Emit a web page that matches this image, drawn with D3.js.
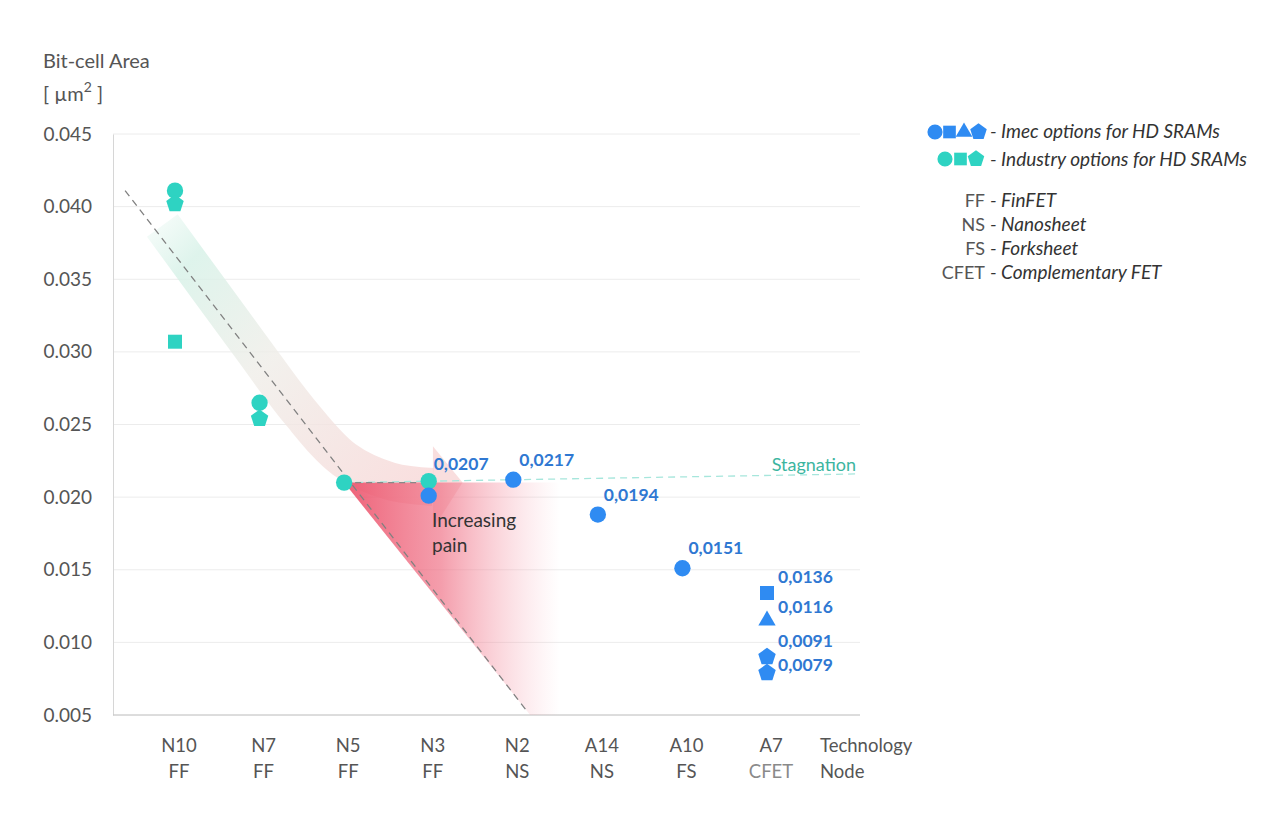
<!DOCTYPE html>
<html>
<head>
<meta charset="utf-8">
<script src="https://cdn.jsdelivr.net/npm/d3@7"></script>
<style>
  body { margin: 0; background: #fff; }
  text { font-family: Lato, "Open Sans", sans-serif; }
</style>
</head>
<body>
<script>
// Chart data
const categories = ["N10", "N7", "N5", "N3", "N2", "A14", "A10", "A7"];
const devices = ["FF", "FF", "FF", "FF", "NS", "NS", "FS", "CFET"];
const yTicks = [0.005, 0.010, 0.015, 0.020, 0.025, 0.030, 0.035, 0.040, 0.045];

const industryNode = ["N10", "N10", "N10", "N7", "N7", "N5", "N3"];
const industryShape = ["circle", "pentagon", "square", "circle", "pentagon", "circle", "circle"];
const industryArea = [0.0411, 0.0402, 0.0307, 0.0265, 0.0254, 0.0210, 0.0211];

const imecNode = ["N3", "N2", "A14", "A10", "A7", "A7", "A7", "A7"];
const imecShape = ["circle", "circle", "circle", "circle", "square", "triangle", "pentagon", "pentagon"];
const imecArea = [0.0201, 0.0212, 0.0188, 0.0151, 0.0134, 0.0115, 0.0090, 0.0079];
const imecLabel = ["0,0207", "0,0217", "0,0194", "0,0151", "0,0136", "0,0116", "0,0091", "0,0079"];

// annotation shapes, in (node index, area) units
const trendLine = [[-0.59, 0.0411], [4.17, 0.0052]];
const stagnationLine = [[2, 0.0210], [8.1, 0.0216]];
const painArea = [[2, 0.0210], [5.1, 0.0210], [5.1, 0.005], [4.2, 0.005]];
const arrowBody = [[-0.15, 0.0387], [0.88, 0.0305], [1.47, 0.0259], [2.0, 0.0226], [2.54, 0.0211], [3.05, 0.0207]];
const arrowHead = [[3.05, 0.0235], [3.4, 0.0210], [3.05, 0.0178]];

const legendTerms = [["FF", "FinFET"], ["NS", "Nanosheet"], ["FS", "Forksheet"], ["CFET", "Complementary FET"]];

// colours
const teal = "#2ed3c2";
const blue = "#2f8bf2";
const labelBlue = "#2f78d2";
const grey = "#555";

const width = 1280;
const height = 828;

const svg = d3.select("body")
  .append("svg")
  .attr("width", width)
  .attr("height", height);

const plotLeft = 113, plotRight = 860, plotTop = 134, plotBottom = 715;

const x = d3.scalePoint()
  .domain(categories)
  .range([175, 767]);

// continuous version of the node axis for the annotations
const xi = d3.scaleLinear()
  .domain([0, categories.length - 1])
  .range([175, 767]);

const y = d3.scaleLinear()
  .domain([0.005, 0.045])
  .range([plotBottom, plotTop]);

// pentagon symbol (d3 has none)
const symbolPentagon = {
  draw: function(context, size) {
    const r = Math.sqrt(size / 2.3776);
    for (let k = 0; k < 5; k++) {
      const a = -Math.PI / 2 + k * 2 * Math.PI / 5;
      if (k === 0) context.moveTo(r * Math.cos(a), r * Math.sin(a));
      else context.lineTo(r * Math.cos(a), r * Math.sin(a));
    }
    context.closePath();
  }
};

const symbolTypes = {
  circle: d3.symbolCircle,
  square: d3.symbolSquare,
  triangle: d3.symbolTriangle,
  pentagon: symbolPentagon
};
const symbolSizes = { circle: 210, square: 196, triangle: 130, pentagon: 200 };
const legendSizes = { circle: 180, square: 160, triangle: 120, pentagon: 180 };

const defs = svg.append("defs");

// gridlines
svg.append("g")
  .selectAll("line")
  .data(yTicks)
  .enter()
  .append("line")
  .attr("x1", plotLeft)
  .attr("x2", plotRight)
  .attr("y1", d => y(d))
  .attr("y2", d => y(d))
  .attr("stroke", "#ececec")
  .attr("stroke-width", 1);

// y axis
const yAxis = svg.append("g")
  .attr("transform", "translate(" + plotLeft + ",0)")
  .call(d3.axisLeft(y).tickValues(yTicks).tickSize(0).tickPadding(21).tickFormat(d3.format(".3f")));
yAxis.select(".domain").attr("stroke", "#d6d6d6");
yAxis.selectAll("text")
  .style("font-size", "19px")
  .attr("fill", grey);

svg.append("line")
  .attr("x1", plotLeft)
  .attr("x2", plotRight)
  .attr("y1", plotBottom)
  .attr("y2", plotBottom)
  .attr("stroke", "#c4c4c4");

// y title
svg.append("text")
  .attr("x", 43)
  .attr("y", 68)
  .style("font-size", "20px")
  .attr("fill", grey)
  .text("Bit-cell Area");

const unit = svg.append("text")
  .attr("x", 43)
  .attr("y", 101)
  .style("font-size", "20px")
  .attr("fill", grey);
unit.append("tspan").text("[ µm");
unit.append("tspan").attr("dy", -9).style("font-size", "14px").text("2");
unit.append("tspan").attr("dy", 9).text(" ]");

// x labels
const xLab = svg.append("g")
  .selectAll("g")
  .data(categories)
  .enter()
  .append("g")
  .attr("transform", d => "translate(" + (x(d) + 4) + ",0)");

xLab.append("text")
  .attr("y", 752)
  .attr("text-anchor", "middle")
  .style("font-size", "18.5px")
  .attr("fill", grey)
  .text(d => d);

xLab.append("text")
  .attr("y", 778)
  .attr("text-anchor", "middle")
  .style("font-size", "18.5px")
  .attr("fill", (d, i) => devices[i] === "CFET" ? "#8a8a8a" : grey)
  .text((d, i) => devices[i]);

svg.append("text")
  .attr("x", 820)
  .attr("y", 752)
  .style("font-size", "18.5px")
  .attr("fill", grey)
  .text("Technology");

svg.append("text")
  .attr("x", 820)
  .attr("y", 778)
  .style("font-size", "18.5px")
  .attr("fill", grey)
  .text("Node");

// curved arrow band
const toPx = d => [xi(d[0]), y(d[1])];
const bodyPx = arrowBody.map(toPx);

const bandGrad = defs.append("linearGradient")
  .attr("id", "bandGrad")
  .attr("gradientUnits", "userSpaceOnUse")
  .attr("x1", bodyPx[0][0]).attr("y1", bodyPx[0][1])
  .attr("x2", bodyPx[bodyPx.length - 1][0]).attr("y2", bodyPx[bodyPx.length - 1][1]);
bandGrad.append("stop").attr("offset", "0%").attr("stop-color", "#d6f1e7").attr("stop-opacity", 0.4);
bandGrad.append("stop").attr("offset", "12%").attr("stop-color", "#d6f1e7");
bandGrad.append("stop").attr("offset", "45%").attr("stop-color", "#efede8");
bandGrad.append("stop").attr("offset", "100%").attr("stop-color", "#f8d6d6");

svg.append("path")
  .attr("d", d3.line().curve(d3.curveCatmullRom)(bodyPx))
  .attr("fill", "none")
  .attr("stroke", "url(#bandGrad)")
  .attr("stroke-width", 38)
  .style("opacity", 0.8);

svg.append("path")
  .attr("d", d3.line()(arrowHead.map(toPx)) + "Z")
  .attr("fill", "#f8d6d6")
  .style("opacity", 0.8);

// increasing pain area
const painPx = painArea.map(toPx);
const painGrad = defs.append("linearGradient")
  .attr("id", "painGrad")
  .attr("gradientUnits", "userSpaceOnUse")
  .attr("x1", painPx[0][0]).attr("y1", 0)
  .attr("x2", xi(4.55)).attr("y2", 0);
painGrad.append("stop").attr("offset", "0%").attr("stop-color", "#ec4f68").attr("stop-opacity", 0.9);
painGrad.append("stop").attr("offset", "45%").attr("stop-color", "#ef7085").attr("stop-opacity", 0.68);
painGrad.append("stop").attr("offset", "100%").attr("stop-color", "#f7a8b5").attr("stop-opacity", 0);

svg.append("path")
  .attr("d", d3.line()(painPx) + "Z")
  .attr("fill", "url(#painGrad)");

// dashed lines
svg.append("path")
  .attr("d", d3.line()(stagnationLine.map(toPx)))
  .attr("fill", "none")
  .attr("stroke", "#a6e6dc")
  .attr("stroke-width", 1.3)
  .attr("stroke-dasharray", "7,5");

svg.append("path")
  .attr("d", d3.line()([[2, 0.0210], [3, 0.0210]].map(toPx)))
  .attr("fill", "none")
  .attr("stroke", "#888")
  .attr("stroke-width", 1.2)
  .attr("stroke-dasharray", "6,5");

svg.append("path")
  .attr("d", d3.line()(trendLine.map(toPx)))
  .attr("fill", "none")
  .attr("stroke", "#808080")
  .attr("stroke-width", 1.3)
  .attr("stroke-dasharray", "7,5");

svg.append("text")
  .attr("x", 856)
  .attr("y", 471)
  .attr("text-anchor", "end")
  .style("font-size", "18px")
  .attr("fill", "#3cb59f")
  .text("Stagnation");

svg.append("text")
  .attr("x", 432)
  .attr("y", 527)
  .style("font-size", "19px")
  .attr("fill", "#333")
  .text("Increasing");

svg.append("text")
  .attr("x", 432)
  .attr("y", 552)
  .style("font-size", "19px")
  .attr("fill", "#333")
  .text("pain");

// industry markers
svg.append("g")
  .selectAll("path")
  .data(industryArea)
  .enter()
  .append("path")
  .attr("d", (d, i) => d3.symbol(symbolTypes[industryShape[i]], symbolSizes[industryShape[i]])())
  .attr("transform", (d, i) => "translate(" + x(industryNode[i]) + "," + y(d) + ")")
  .attr("fill", teal);

// imec markers
svg.append("g")
  .selectAll("path")
  .data(imecArea)
  .enter()
  .append("path")
  .attr("d", (d, i) => d3.symbol(symbolTypes[imecShape[i]], symbolSizes[imecShape[i]])())
  .attr("transform", (d, i) => "translate(" + x(imecNode[i]) + "," + y(d) + ")")
  .attr("fill", blue);

// value labels
const labelOffset = { "0,0207": [5, -26], "0,0136": [11, -10], "0,0116": [11, -8], "0,0091": [11, -10], "0,0079": [11, -2] };
const offsetOf = i => labelOffset[imecLabel[i]] || [6, -14];

svg.append("g")
  .selectAll("text")
  .data(imecArea)
  .enter()
  .append("text")
  .attr("x", (d, i) => x(imecNode[i]) + offsetOf(i)[0])
  .attr("y", (d, i) => y(d) + offsetOf(i)[1])
  .style("font-size", "17.5px")
  .style("font-weight", "bold")
  .attr("fill", labelBlue)
  .text((d, i) => imecLabel[i]);

// legend
const legImec = ["circle", "square", "triangle", "pentagon"];
const legIndustry = ["circle", "square", "pentagon"];

svg.append("g")
  .selectAll("path")
  .data(legImec)
  .enter()
  .append("path")
  .attr("d", d => d3.symbol(symbolTypes[d], legendSizes[d])())
  .attr("transform", (d, i) => "translate(" + (935 + i * 14.5) + ",132)")
  .attr("fill", blue);

svg.append("g")
  .selectAll("path")
  .data(legIndustry)
  .enter()
  .append("path")
  .attr("d", d => d3.symbol(symbolTypes[d], legendSizes[d])())
  .attr("transform", (d, i) => "translate(" + (945 + i * 15.5) + ",159)")
  .attr("fill", teal);

svg.append("text")
  .attr("x", 990)
  .attr("y", 138)
  .style("font-size", "19px")
  .style("font-style", "italic")
  .attr("fill", "#333")
  .text("-  Imec options for HD SRAMs");

svg.append("text")
  .attr("x", 990)
  .attr("y", 166)
  .style("font-size", "19px")
  .style("font-style", "italic")
  .attr("fill", "#333")
  .text("-  Industry options for HD SRAMs");

const terms = svg.append("g")
  .selectAll("g")
  .data(legendTerms)
  .enter()
  .append("g")
  .attr("transform", (d, i) => "translate(0," + (207 + i * 24) + ")");

terms.append("text")
  .attr("x", 985)
  .attr("text-anchor", "end")
  .style("font-size", "18px")
  .attr("fill", grey)
  .text(d => d[0]);

terms.append("text")
  .attr("x", 990)
  .style("font-size", "19px")
  .style("font-style", "italic")
  .attr("fill", "#333")
  .text(d => "-  " + d[1]);
</script>
</body>
</html>
